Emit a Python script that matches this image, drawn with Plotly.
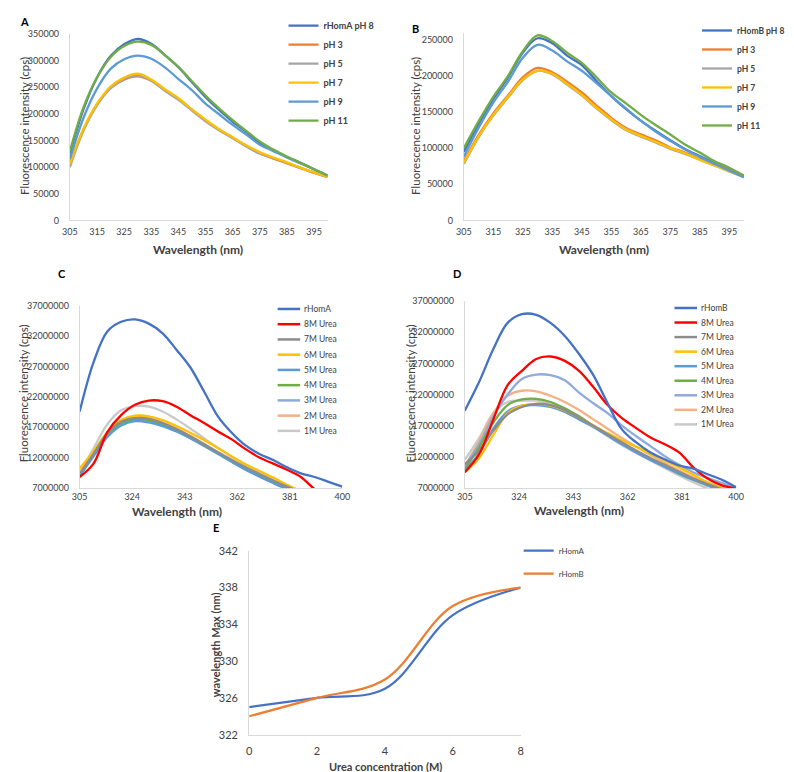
import plotly.graph_objects as go

W, H = 794, 772

# ---------------- data ----------------
WL = [305, 310, 315, 320, 325, 330, 335, 340, 345, 350, 355, 360, 365, 370, 375, 380, 385, 390, 395, 400]

# Panel A (cps)
A_names = ["rHomA pH 8", "pH 3", "pH 5", "pH 7", "pH 9", "pH 11"]
A_pH8 = [125000, 208000, 268000, 308000, 330000, 340000, 331000, 310000, 287000, 259000, 231000, 207000, 185000, 166000, 145000, 131000, 119000, 108000, 96000, 84000]
A_pH3 = [105000, 170000, 217000, 248000, 264000, 270000, 262000, 244000, 228000, 207000, 188000, 170000, 155000, 139000, 126000, 116000, 107000, 98000, 89000, 81000]
A_pH5 = [100000, 168000, 216000, 248000, 265000, 272000, 262000, 243000, 226000, 206000, 186000, 169000, 154000, 139000, 125000, 117000, 108000, 99000, 90000, 82000]
A_pH7 = [106000, 172000, 219000, 251000, 268000, 275000, 264000, 246000, 229000, 208000, 189000, 171000, 156000, 141000, 128000, 118000, 109000, 99000, 90000, 82000]
A_pH9 = [115000, 192000, 247000, 284000, 302000, 309000, 303000, 287000, 265000, 244000, 219000, 199000, 179000, 161000, 142000, 130000, 118000, 107000, 96000, 84000]
A_pH11 = [130000, 212000, 268000, 306000, 327000, 335000, 329000, 310000, 288000, 261000, 234000, 210000, 188000, 168000, 148000, 133000, 120000, 108000, 96000, 84000]

# Panel B (cps)
B_names = ["rHomB pH 8", "pH 3", "pH 5", "pH 7", "pH 9", "pH 11"]
B_pH8 = [95000, 133000, 168000, 198000, 232000, 252000, 245000, 228000, 215000, 193000, 172000, 154000, 138000, 124000, 111000, 99000, 89000, 79000, 70000, 60000]
B_pH3 = [82000, 118000, 148000, 173000, 198000, 211000, 205000, 192000, 177000, 159000, 142000, 128000, 119000, 111000, 101000, 94000, 85000, 78000, 70000, 62000]
B_pH5 = [78000, 115000, 145000, 170000, 194000, 207000, 202000, 188000, 173000, 155000, 139000, 125000, 116000, 108000, 99000, 92000, 84000, 76000, 68000, 60000]
B_pH7 = [80000, 116000, 146000, 171000, 195000, 207000, 203000, 189000, 174000, 156000, 140000, 126000, 117000, 109000, 100000, 93000, 84000, 76000, 68000, 61000]
B_pH9 = [88000, 128000, 163000, 192000, 225000, 243000, 235000, 220000, 207000, 190000, 172000, 155000, 138000, 123000, 110000, 98000, 88000, 78000, 69000, 60000]
B_pH11 = [100000, 137000, 171000, 200000, 234000, 256000, 248000, 232000, 218000, 198000, 177000, 162000, 146000, 132000, 119000, 105000, 94000, 82000, 73000, 62000]

# Panel C (cps)
C_names = ["rHomA", "8M Urea", "7M Urea", "6M Urea", "5M Urea", "4M Urea", "3M Urea", "2M Urea", "1M Urea"]
C_rHomA = [19.6e6, 27.7e6, 32.8e6, 34.4e6, 34.8e6, 34.1e6, 32.5e6, 29.8e6, 26.9e6, 22.9e6, 18.8e6, 16.1e6, 14.0e6, 12.6e6, 11.6e6, 10.4e6, 9.4e6, 8.8e6, 8.0e6, 7.2e6]
C_8M = [8.8e6, 11.0e6, 16.2e6, 19.0e6, 20.7e6, 21.4e6, 21.3e6, 20.4e6, 19.0e6, 17.7e6, 16.3e6, 15.0e6, 13.4e6, 12.0e6, 11.0e6, 10.0e6, 8.8e6, 6.8e6, 5.5e6, 4.5e6]
C_7M = [9.3e6, 12.6e6, 16.0e6, 17.9e6, 18.5e6, 18.4e6, 17.7e6, 16.7e6, 15.5e6, 14.2e6, 12.9e6, 11.6e6, 10.4e6, 9.3e6, 8.2e6, 7.2e6, 6.3e6, 5.5e6, 4.8e6, 4.2e6]
C_6M = [10.2e6, 13.0e6, 16.2e6, 18.2e6, 18.9e6, 18.8e6, 18.2e6, 17.2e6, 16.1e6, 14.9e6, 13.6e6, 12.2e6, 10.9e6, 9.8e6, 8.7e6, 7.5e6, 6.5e6, 5.6e6, 4.8e6, 4.2e6]
C_5M = [9.0e6, 12.2e6, 15.4e6, 17.3e6, 18.0e6, 17.8e6, 17.2e6, 16.3e6, 15.2e6, 14.0e6, 12.7e6, 11.3e6, 10.0e6, 8.9e6, 7.8e6, 6.8e6, 6.0e6, 5.3e6, 4.7e6, 4.1e6]
C_4M = [9.2e6, 12.5e6, 15.8e6, 17.7e6, 18.3e6, 18.2e6, 17.5e6, 16.5e6, 15.3e6, 14.0e6, 12.7e6, 11.4e6, 10.2e6, 9.0e6, 7.9e6, 6.9e6, 6.0e6, 5.3e6, 4.7e6, 4.1e6]
C_3M = [9.1e6, 12.4e6, 15.6e6, 17.5e6, 18.2e6, 18.0e6, 17.3e6, 16.4e6, 15.2e6, 13.9e6, 12.6e6, 11.3e6, 10.1e6, 8.9e6, 7.9e6, 6.9e6, 6.0e6, 5.3e6, 4.7e6, 4.1e6]
C_2M = [9.4e6, 12.8e6, 16.0e6, 17.9e6, 18.6e6, 18.5e6, 17.8e6, 16.8e6, 15.6e6, 14.3e6, 12.9e6, 11.6e6, 10.3e6, 9.1e6, 8.0e6, 7.0e6, 6.1e6, 5.3e6, 4.7e6, 4.1e6]
C_1M = [9.5e6, 13.5e6, 17.5e6, 19.8e6, 20.5e6, 20.4e6, 19.6e6, 18.3e6, 16.8e6, 15.2e6, 13.6e6, 12.1e6, 10.7e6, 9.5e6, 8.4e6, 7.3e6, 6.3e6, 5.5e6, 4.8e6, 4.2e6]

# Panel D (cps)
D_names = ["rHomB", "8M Urea", "7M Urea", "6M Urea", "5M Urea", "4M Urea", "3M Urea", "2M Urea", "1M Urea"]
D_rHomB = [19.4e6, 24.0e6, 29.3e6, 33.5e6, 34.9e6, 34.8e6, 33.5e6, 31.4e6, 28.5e6, 25.1e6, 20.6e6, 16.4e6, 14.3e6, 12.7e6, 11.6e6, 10.6e6, 10.1e6, 9.2e6, 8.3e6, 7.1e6]
D_8M = [9.5e6, 12.4e6, 18.0e6, 23.5e6, 25.8e6, 27.7e6, 28.1e6, 27.4e6, 25.8e6, 23.2e6, 20.3e6, 18.2e6, 16.6e6, 15.1e6, 14.0e6, 12.7e6, 10.3e6, 8.5e6, 7.4e6, 6.9e6]
D_7M = [10.8e6, 13.0e6, 16.2e6, 18.8e6, 20.0e6, 20.5e6, 20.3e6, 19.5e6, 18.3e6, 17.0e6, 15.6e6, 14.3e6, 13.0e6, 11.8e6, 10.7e6, 9.6e6, 8.5e6, 7.6e6, 6.8e6, 6.0e6]
D_6M = [9.5e6, 11.8e6, 15.5e6, 19.0e6, 20.2e6, 20.5e6, 20.2e6, 19.4e6, 18.3e6, 17.0e6, 15.8e6, 14.6e6, 13.6e6, 12.5e6, 11.4e6, 10.3e6, 9.1e6, 7.9e6, 7.0e6, 6.2e6]
D_5M = [9.8e6, 12.5e6, 16.5e6, 19.3e6, 20.2e6, 20.3e6, 20.0e6, 19.2e6, 18.0e6, 16.8e6, 15.4e6, 14.0e6, 12.7e6, 11.5e6, 10.4e6, 9.3e6, 8.3e6, 7.4e6, 6.6e6, 5.9e6]
D_4M = [10.0e6, 13.5e6, 17.5e6, 20.3e6, 21.2e6, 21.3e6, 20.8e6, 19.8e6, 18.5e6, 17.0e6, 15.6e6, 14.2e6, 12.9e6, 11.6e6, 10.4e6, 9.3e6, 8.3e6, 7.4e6, 6.6e6, 5.9e6]
D_3M = [10.5e6, 14.0e6, 18.5e6, 22.0e6, 24.5e6, 25.2e6, 25.1e6, 24.3e6, 22.3e6, 20.6e6, 19.0e6, 17.0e6, 15.3e6, 13.7e6, 12.1e6, 10.7e6, 9.5e6, 8.6e6, 7.8e6, 7.0e6]
D_2M = [10.5e6, 14.5e6, 19.0e6, 21.8e6, 22.6e6, 22.5e6, 21.8e6, 20.8e6, 19.5e6, 18.0e6, 16.5e6, 15.0e6, 13.6e6, 12.3e6, 11.0e6, 9.8e6, 8.7e6, 7.8e6, 7.0e6, 6.3e6]
D_1M = [11.5e6, 15.0e6, 19.0e6, 20.8e6, 21.0e6, 21.0e6, 20.5e6, 19.6e6, 18.3e6, 16.8e6, 15.3e6, 13.9e6, 12.6e6, 11.4e6, 10.2e6, 9.0e6, 7.9e6, 6.9e6, 6.1e6, 5.4e6]

# Panel E
E_names = ["rHomA", "rHomB"]
E_urea = [0, 2, 4, 6, 8]
E_rHomA = [325, 326, 327, 335, 338]
E_rHomB = [324, 326, 328, 336, 338]

# tick labels
AB_xticks = [305, 315, 325, 335, 345, 355, 365, 375, 385, 395]
CD_xticks = [305, 324, 343, 362, 381, 400]

# ---------------- styles ----------------
PH_COLORS = ["#4472C4", "#ED7D31", "#A5A5A5", "#FFC000", "#5B9BD5", "#70AD47"]
UREA_COLORS = ["#4472C4", "#FF0000", "#8C8C8C", "#FFC000", "#5B9BD5", "#70AD47", "#8FAADC", "#F4B183", "#C9C9C9"]
E_COLORS = ["#4472C4", "#ED7D31"]
FONT = "Lato"
TXT = "#404040"


def px(x):
    return x / W


def py(y):
    return 1 - y / H


fig = go.Figure()

A_series = [A_pH8, A_pH3, A_pH5, A_pH7, A_pH9, A_pH11]
B_series = [B_pH8, B_pH3, B_pH5, B_pH7, B_pH9, B_pH11]
C_series = [C_rHomA, C_8M, C_7M, C_6M, C_5M, C_4M, C_3M, C_2M, C_1M]
D_series = [D_rHomB, D_8M, D_7M, D_6M, D_5M, D_4M, D_3M, D_2M, D_1M]

for name, ys, col in zip(A_names, A_series, PH_COLORS):
    fig.add_trace(go.Scatter(x=WL, y=ys, name=name, mode="lines", line=dict(color=col, width=2.3, shape="spline"),
                             xaxis="x", yaxis="y", legend="legend"))
for name, ys, col in zip(B_names, B_series, PH_COLORS):
    fig.add_trace(go.Scatter(x=WL, y=ys, name=name, mode="lines", line=dict(color=col, width=2.3, shape="spline"),
                             xaxis="x2", yaxis="y2", legend="legend2"))
for name, ys, col in list(zip(C_names, C_series, UREA_COLORS))[::-1]:
    fig.add_trace(go.Scatter(x=WL, y=ys, name=name, mode="lines", line=dict(color=col, width=2.3, shape="spline"),
                             xaxis="x3", yaxis="y3", showlegend=False))
for name, ys, col in list(zip(D_names, D_series, UREA_COLORS))[::-1]:
    fig.add_trace(go.Scatter(x=WL, y=ys, name=name, mode="lines", line=dict(color=col, width=2.3, shape="spline"),
                             xaxis="x4", yaxis="y4", showlegend=False))
for name, ys, col in zip(E_names, [E_rHomA, E_rHomB], E_COLORS):
    fig.add_trace(go.Scatter(x=E_urea, y=ys, name=name, mode="lines", line=dict(color=col, width=2.2, shape="spline"),
                             xaxis="x5", yaxis="y5", legend="legend3", legendgroup=name))

axis_common = dict(showline=True, linecolor="#D9D9D9", linewidth=1, showgrid=False, zeroline=False,
                   ticks="", tickfont=dict(family=FONT, size=9, color=TXT))

layout = dict(
    width=W, height=H, margin=dict(l=0, r=0, t=0, b=0),
    paper_bgcolor="white", plot_bgcolor="white",
    font=dict(family=FONT, color=TXT),
    xaxis=dict(axis_common, domain=[px(55), px(318)], range=[305, 400], tickvals=AB_xticks, anchor="y", ticklabelstandoff=3),
    yaxis=dict(axis_common, domain=[py(209), py(19)], range=[0, 350000], dtick=50000, tickformat="d", anchor="x", ticklabelstandoff=8),
    xaxis2=dict(axis_common, domain=[px(457), px(743)], range=[305, 400], tickvals=AB_xticks, anchor="y2", ticklabelstandoff=3),
    yaxis2=dict(axis_common, domain=[py(209), py(18.5)], range=[0, 259000], dtick=50000, tickformat="d", anchor="x2", ticklabelstandoff=8),
    xaxis3=dict(axis_common, domain=[px(65), px(333)], range=[305, 400], tickvals=CD_xticks, anchor="y3", ticklabelstandoff=0),
    yaxis3=dict(axis_common, domain=[py(481), py(296)], range=[7e6, 37e6], tick0=7e6, dtick=5e6, tickformat="d", anchor="x3", ticklabelstandoff=8),
    xaxis4=dict(axis_common, domain=[px(458), px(735)], range=[305, 400], tickvals=CD_xticks, anchor="y4", ticklabelstandoff=0),
    yaxis4=dict(axis_common, domain=[py(481), py(291)], range=[7e6, 37e6], tick0=7e6, dtick=5e6, tickformat="d", anchor="x4", ticklabelstandoff=8),
    xaxis5=dict(axis_common, domain=[px(238), px(515)], range=[0, 8], dtick=2, anchor="y5", ticklabelstandoff=6,
                tickfont=dict(family=FONT, size=11, color=TXT)),
    yaxis5=dict(axis_common, domain=[py(732), py(545)], range=[322, 342], tick0=322, dtick=4, anchor="x5", ticklabelstandoff=8,
                tickfont=dict(family=FONT, size=11, color=TXT)),
    legend=dict(x=px(273), y=py(-4), xanchor="left", yanchor="top", bgcolor="rgba(0,0,0,0)",
                font=dict(family=FONT, size=9, color=TXT, weight="bold"), itemwidth=30),
    legend2=dict(x=px(695), y=py(1), xanchor="left", yanchor="top", bgcolor="rgba(0,0,0,0)",
                 font=dict(family=FONT, size=8.5, color=TXT, weight="bold"), itemwidth=30),
    legend3=dict(x=px(513), y=py(530), xanchor="left", yanchor="top", bgcolor="rgba(0,0,0,0)",
                 font=dict(family=FONT, size=8, color=TXT), itemwidth=30, tracegroupgap=4, traceorder="grouped"),
    showlegend=True,
)
fig.update_layout(**layout)

annotations = []
shapes = []


def label(x, y, text, size=10, bold=True, angle=0, color=TXT):
    annotations.append(dict(x=px(x), y=py(y), xref="paper", yref="paper", text=(f"<b>{text}</b>" if bold else text),
                            showarrow=False, textangle=angle, xanchor="center", yanchor="middle",
                            font=dict(family=FONT, size=size, color=color)))


# panel letters
label(9, 7, "A", size=11, color="black")
label(408, 14, "B", size=11, color="black")
label(47, 263, "C", size=11, color="black")
label(450, 263, "D", size=11, color="black")
label(204, 521, "E", size=11, color="black")

# axis titles
label(186, 239, "Wavelength (nm)", size=12)
label(600, 239, "Wavelength (nm)", size=12)
label(164, 505, "Wavelength (nm)", size=12)
label(575, 504, "Wavelength (nm)", size=12)
label(377, 764, "Urea concentration (M)", size=11)
label(8, 113, "Fluorescence intensity (cps)", size=11.5, bold=False, angle=-90)
label(407, 113, "Fluorescence intensity (cps)", size=11.5, bold=False, angle=-90)
label(8, 385, "Fluorescence intensity (cps)", size=11.5, bold=False, angle=-90)
label(403, 385, "Fluorescence intensity (cps)", size=11.5, bold=False, angle=-90)
label(203, 640, "wavelength Max (nm)", size=11, bold=True, angle=-90)

# compact Excel-style legends for panels C and D (built from the series names/colours)
for names, cols, x0, y0, step in [(C_names, UREA_COLORS, 267, 299, 15.5), (D_names, UREA_COLORS, 672, 298, 14.8)]:
    for i, (nm, col) in enumerate(zip(names, cols)):
        yy = y0 + i * step
        shapes.append(dict(type="line", xref="paper", yref="paper", x0=px(x0), x1=px(x0 + 23), y0=py(yy), y1=py(yy),
                           line=dict(color=col, width=2.5)))
        annotations.append(dict(x=px(x0 + 25), y=py(yy), xref="paper", yref="paper", text=nm, showarrow=False,
                                xanchor="left", yanchor="middle", font=dict(family=FONT, size=8.5, color=TXT)))

fig.update_layout(annotations=annotations, shapes=shapes)
fig.write_html("out.html")
